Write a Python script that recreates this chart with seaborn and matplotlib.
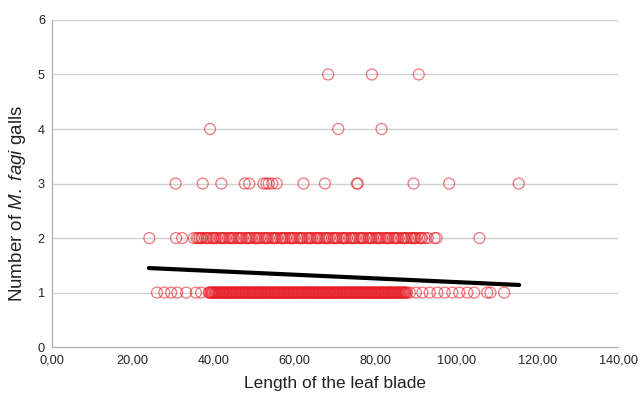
import matplotlib
matplotlib.use("Agg")
import matplotlib.pyplot as plt
import seaborn as sns
import pandas as pd

# ---- data ----
x_gall1 = [26.0, 27.8, 29.5, 31.0, 33.2, 35.6, 36.9,
           38.8, 39.3, 39.7, 40.2, 40.5, 41.0, 41.4, 41.9, 42.3, 42.6, 43.1, 43.5, 44.0, 44.4,
           44.8, 45.3, 45.6, 46.1, 46.5, 47.0, 47.3, 47.8, 48.2, 48.7, 49.0, 49.5, 49.9, 50.3,
           50.8, 51.2, 51.6, 52.0, 52.5, 52.9, 53.3, 53.7, 54.2, 54.6, 55.0, 55.4, 55.9, 56.3,
           56.7, 57.2, 57.5, 58.0, 58.4, 58.8, 59.3, 59.7, 60.1, 60.5, 61.0, 61.4, 61.8, 62.2,
           62.7, 63.1, 63.5, 63.9, 64.4, 64.8, 65.2, 65.6, 66.1, 66.5, 66.9, 67.3, 67.8, 68.2,
           68.6, 69.0, 69.5, 69.9, 70.3, 70.7, 71.2, 71.6, 72.0, 72.4, 72.9, 73.3, 73.7, 74.1,
           74.6, 75.0, 75.4, 75.8, 76.3, 76.7, 77.1, 77.5, 78.0, 78.4, 78.8, 79.2, 79.7, 80.1,
           80.5, 80.9, 81.4, 81.8, 82.2, 82.6, 83.1, 83.5, 83.9, 84.3, 84.8, 85.2, 85.6, 86.0,
           86.5, 86.9, 87.3, 87.8,
           39.0, 39.5, 39.9, 40.4, 40.8, 41.2, 41.6, 42.1, 42.5, 42.9, 43.3, 43.8, 44.2, 44.6,
           45.0, 45.5, 45.9, 46.3, 46.7, 47.2, 47.6, 48.0, 48.4, 48.9, 49.3, 49.7, 50.1, 50.6,
           51.0, 51.4, 51.8, 52.3, 52.7, 53.1, 53.5, 54.0, 54.4, 54.8, 55.2, 55.7, 56.1, 56.5,
           56.9, 57.4, 57.8, 58.2, 58.6, 59.1, 59.5, 59.9, 60.3, 60.8, 61.2, 61.6, 62.0, 62.5,
           62.9, 63.3, 63.7, 64.2, 64.6, 65.0, 65.4, 65.9, 66.3, 66.7, 67.1, 67.6, 68.0, 68.4,
           68.8, 69.3, 69.7, 70.1, 70.5, 71.0, 71.4, 71.8, 72.2, 72.7, 73.1, 73.5, 73.9, 74.4,
           74.8, 75.2, 75.6, 76.1, 76.5, 76.9, 77.3, 77.8, 78.2, 78.6, 79.0, 79.5, 79.9, 80.3,
           80.7, 81.2, 81.6, 82.0, 82.4, 82.9, 83.3, 83.7, 84.1, 84.6, 85.0, 85.4, 85.8, 86.3,
           86.7, 87.1, 87.5,
           88.5, 90.0, 91.6, 93.4, 95.3, 97.1, 99.0, 100.7, 102.7, 104.4,
           107.6, 108.4, 111.8]
x_gall2 = [24.1, 30.7, 32.2,
           35.1, 35.8, 36.6, 37.2, 37.9, 38.7, 39.3, 40.0, 40.8, 41.5, 42.1, 42.9, 43.6, 44.3,
           45.0, 45.7, 46.5, 47.1, 47.9, 48.6, 49.3, 50.0, 50.7, 51.5, 52.1, 52.9, 53.6, 54.3,
           55.0, 55.7, 56.5, 57.1, 57.9, 58.6, 59.3, 60.0, 60.7, 61.5, 62.1, 62.9, 63.6, 64.3,
           65.0, 65.7, 66.5, 67.1, 67.9, 68.6, 69.3, 70.0, 70.7, 71.5, 72.1, 72.9, 73.6, 74.3,
           75.0, 75.7, 76.5, 77.1, 77.9, 78.6, 79.3, 80.0, 80.7, 81.5, 82.1, 82.9, 83.6, 84.3,
           85.0, 85.7, 86.5, 87.1, 87.9, 88.6, 89.3, 90.0, 90.8, 91.5, 92.2, 92.9,
           36.2, 38.3, 40.4, 42.5, 44.7, 46.8, 48.9, 51.1, 53.2, 55.3, 57.5, 59.6, 61.8,
           63.9, 66.0, 68.2, 70.3, 72.5, 74.6, 76.8, 78.9, 81.1, 83.2, 85.3, 87.5, 89.7,
           37.0, 39.8, 41.9, 44.0, 46.1, 48.2, 50.4, 52.6, 54.7, 56.9, 59.0, 61.2, 63.3,
           65.4, 67.6, 69.7, 71.9, 74.0, 76.2, 78.3, 80.4, 82.6, 84.7, 86.9, 89.0, 91.2,
           94.6, 95.1,
           105.7]
x_gall3 = [30.6, 37.3, 41.9, 47.7, 48.8, 52.3, 53.0, 53.6, 54.5, 55.6, 62.2, 67.5,
           75.4, 75.6, 89.4, 98.2, 115.4]
x_gall4 = [39.1, 70.8, 81.5]
x_gall5 = [68.3, 79.1, 90.7]

trend_x = [24.0, 115.5]
trend_y = [1.45, 1.14]

x_ticks = [0, 20, 40, 60, 80, 100, 120, 140]
x_tick_labels = ["0,00", "20,00", "40,00", "60,00", "80,00", "100,00", "120,00", "140,00"]
y_ticks = [0, 1, 2, 3, 4, 5, 6]

xs = x_gall1 + x_gall2 + x_gall3 + x_gall4 + x_gall5
ys = ([1] * len(x_gall1) + [2] * len(x_gall2) + [3] * len(x_gall3)
      + [4] * len(x_gall4) + [5] * len(x_gall5))
df = pd.DataFrame({"length": xs, "galls": ys})

sns.set_theme(style="white")
plt.rcParams["font.family"] = ["Liberation Sans", "DejaVu Sans"]
plt.rcParams["mathtext.fontset"] = "custom"
plt.rcParams["mathtext.it"] = "Liberation Sans:italic"
plt.rcParams["mathtext.rm"] = "Liberation Sans"

fig = plt.figure(figsize=(6.4, 3.99), dpi=100)
ax = fig.add_axes([0.081, 0.130, 0.885, 0.820])

for yv in y_ticks[1:]:
    ax.axhline(yv, color="#d0d0d0", linewidth=1.0, zorder=0)

sns.scatterplot(data=df, x="length", y="galls", ax=ax, marker="o", s=62,
                facecolors="none", edgecolor="#e81c24", linewidth=0.9,
                alpha=0.6, zorder=3, legend=False)
sns.lineplot(x=trend_x, y=trend_y, ax=ax, color="black", linewidth=3.0, zorder=4)

ax.set_xlim(0, 140)
ax.set_ylim(0, 6)
ax.set_xticks(x_ticks)
ax.set_xticklabels(x_tick_labels)
ax.set_yticks(y_ticks)
ax.tick_params(axis="both", labelsize=9.2, colors="#222222", length=3, width=0.8,
               direction="out", pad=2)
ax.tick_params(axis="both", color="#b0b0b0")
for side in ["top", "right"]:
    ax.spines[side].set_visible(False)
for side in ["left", "bottom"]:
    ax.spines[side].set_color("#b0b0b0")
    ax.spines[side].set_linewidth(0.9)

ax.set_xlabel("Length of the leaf blade", fontsize=12.5, color="#222222", labelpad=7)
ax.set_ylabel(r"Number of $\mathit{M.\ fagi}$ galls", fontsize=13.5, color="#222222")
ax.yaxis.set_label_coords(-0.042, 0.44)

fig.savefig("out.png", dpi=100)
